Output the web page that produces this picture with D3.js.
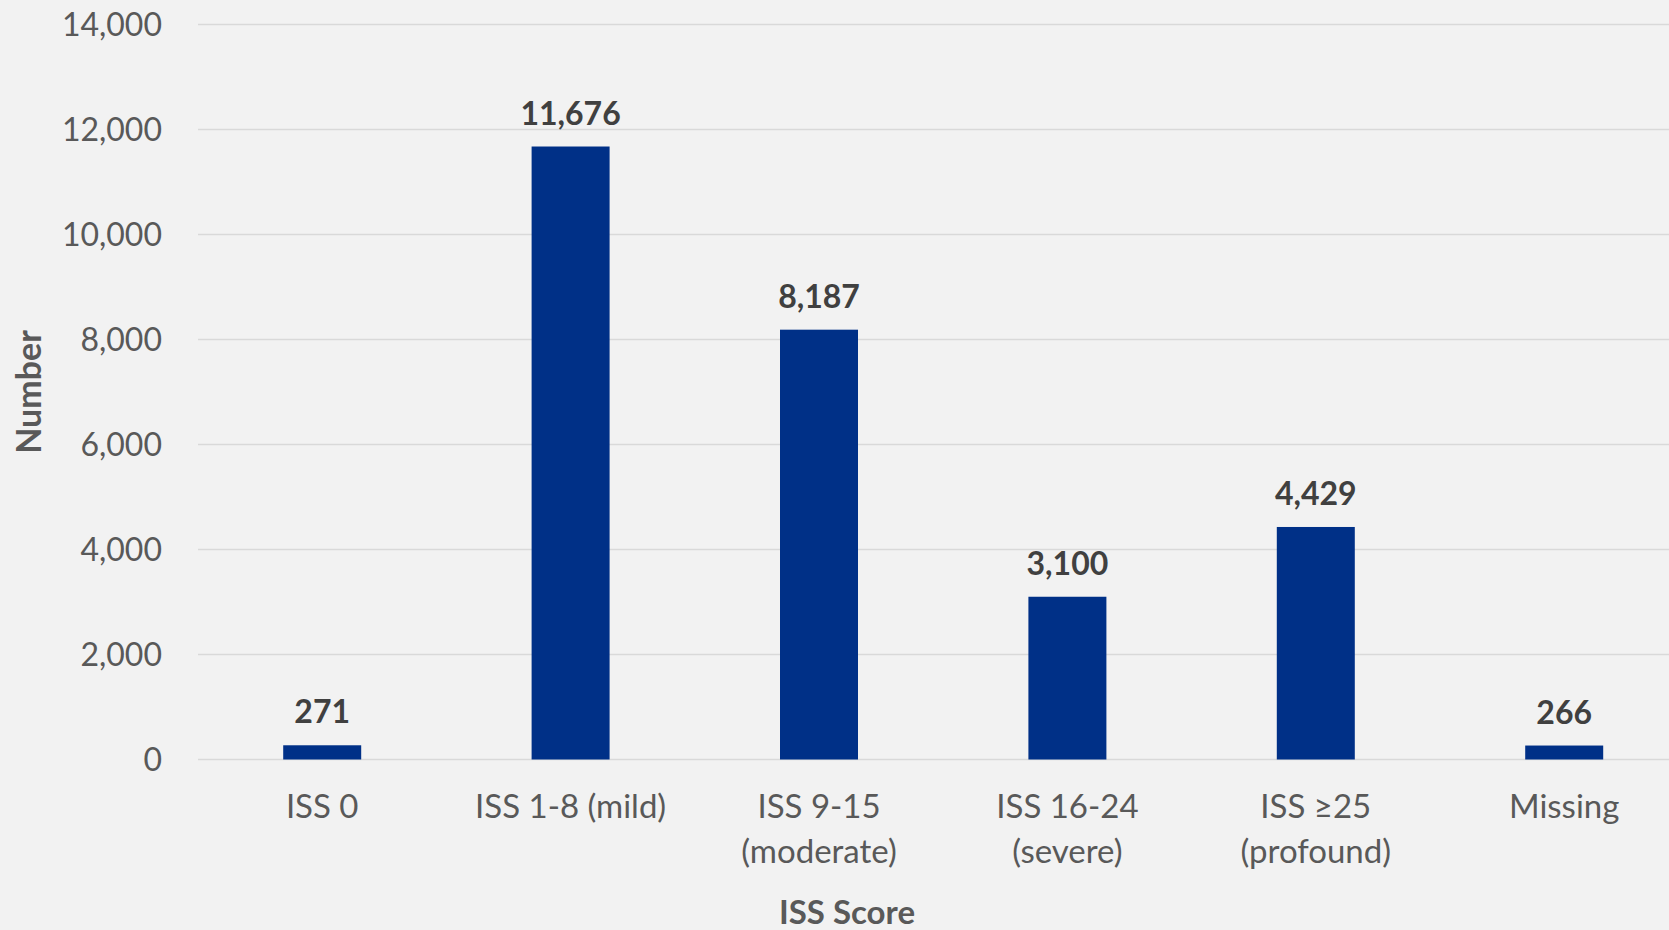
<!DOCTYPE html>
<html>
<head>
<meta charset="utf-8">
<script src="https://cdn.jsdelivr.net/npm/d3@7"></script>
<style>
  html, body { margin: 0; padding: 0; background: #f2f2f2; }
  svg { display: block; }
</style>
</head>
<body>
<svg id="chart" width="1669" height="930"></svg>
<script>
const categories = [["ISS 0"], ["ISS 1-8 (mild)"], ["ISS 9-15", "(moderate)"], ["ISS 16-24", "(severe)"], ["ISS \u226525", "(profound)"], ["Missing"]];
const values = [271, 11676, 8187, 3100, 4429, 266];
const yTicks = [0, 2000, 4000, 6000, 8000, 10000, 12000, 14000];
const xTitle = "ISS Score";
const yTitle = "Number";

const W = 1669, H = 930;
const FONT = "Lato, 'Open Sans', sans-serif";
const svg = d3.select("#chart");
svg.append("rect").attr("width", W).attr("height", H).attr("fill", "#f2f2f2");

const keys = categories.map(c => c.join(" "));
const x = d3.scaleBand().domain(keys).range([198, 1688.4]).paddingInner(0.686).paddingOuter(0.343);
const y = d3.scaleLinear().domain([0, 14000]).range([759.5, 24.5]);

// gridlines
svg.append("g").selectAll("line").data(yTicks).join("line")
  .attr("x1", 198).attr("x2", W)
  .attr("y1", d => y(d)).attr("y2", d => y(d))
  .attr("stroke", "#d9d9d9").attr("stroke-width", 1.5);

// y axis labels
const fmt = d3.format(",");
svg.append("g").selectAll("text").data(yTicks).join("text")
  .attr("x", 162).attr("y", d => y(d)).attr("dy", "0.36em")
  .attr("text-anchor", "end")
  .attr("font-family", FONT).attr("font-size", 32).attr("fill", "#595959")
  .text(d => fmt(d));

// bars
svg.append("g").selectAll("rect").data(values).join("rect")
  .attr("x", (d, i) => x(keys[i]))
  .attr("width", x.bandwidth())
  .attr("y", d => y(d))
  .attr("height", d => y(0) - y(d))
  .attr("fill", "#003087");

// data labels
svg.append("g").selectAll("text").data(values).join("text")
  .attr("x", (d, i) => x(keys[i]) + x.bandwidth() / 2)
  .attr("y", d => y(d) - 22)
  .attr("text-anchor", "middle")
  .attr("font-family", FONT).attr("font-weight", "bold").attr("font-size", 32).attr("fill", "#404040")
  .text(d => fmt(d));

// category labels
const cat = svg.append("g").selectAll("text").data(categories).join("text")
  .attr("x", (d, i) => x(keys[i]) + x.bandwidth() / 2)
  .attr("y", 818)
  .attr("text-anchor", "middle")
  .attr("font-family", FONT).attr("font-size", 33).attr("fill", "#595959");
cat.each(function(d) {
  const t = d3.select(this);
  const cx = t.attr("x");
  d.forEach((line, j) => {
    t.append("tspan").attr("x", cx).attr("dy", j === 0 ? 0 : 45).text(line);
  });
});

// axis titles
svg.append("text")
  .attr("x", 847).attr("y", 924)
  .attr("text-anchor", "middle")
  .attr("font-family", FONT).attr("font-weight", "bold").attr("font-size", 33).attr("fill", "#595959")
  .text(xTitle);

svg.append("text")
  .attr("transform", "translate(41,392) rotate(-90)")
  .attr("text-anchor", "middle")
  .attr("font-family", FONT).attr("font-weight", "bold").attr("font-size", 34).attr("fill", "#595959")
  .text(yTitle);
</script>
</body>
</html>
